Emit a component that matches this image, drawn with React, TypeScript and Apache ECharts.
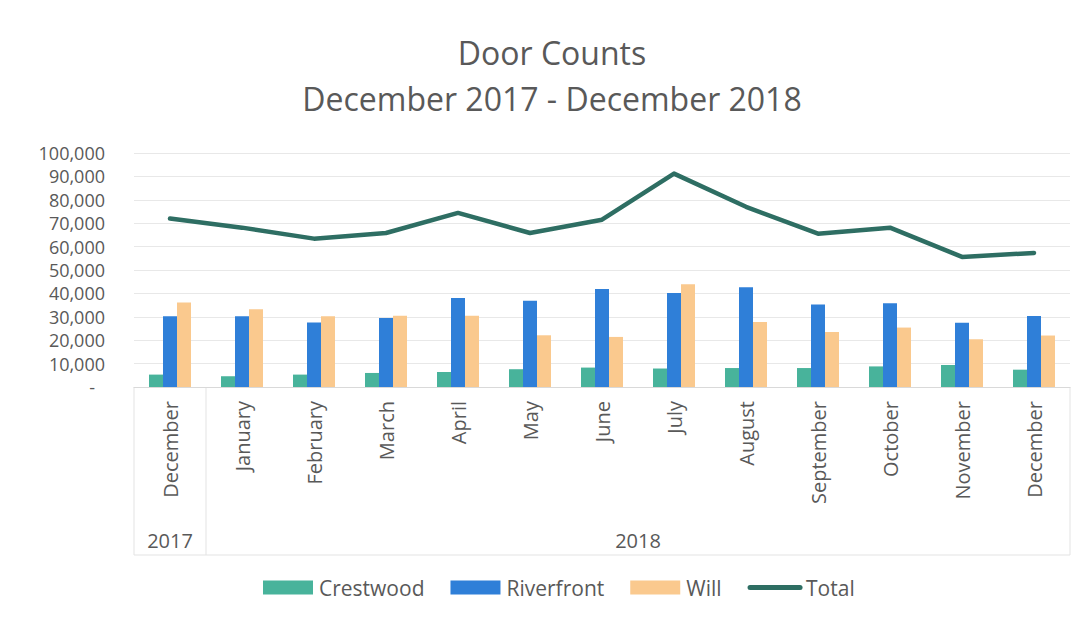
import React, { useEffect, useRef } from 'react';
import * as echarts from 'echarts';

const monthKeys = ['2017-12', '2018-01', '2018-02', '2018-03', '2018-04', '2018-05', '2018-06', '2018-07', '2018-08', '2018-09', '2018-10', '2018-11', '2018-12'];
const monthLabels = ['December', 'January', 'February', 'March', 'April', 'May', 'June', 'July', 'August', 'September', 'October', 'November', 'December'];
const yearLabels = ['2017', '2018'];
const yearSpans = [1, 12];

const crestwood = [5300, 4600, 5300, 6000, 6400, 7600, 8300, 7900, 8100, 8100, 8800, 9400, 7400];
const riverfront = [30200, 30200, 27600, 29500, 38000, 36900, 41900, 40200, 42600, 35300, 35800, 27500, 30300];
const will = [36100, 33200, 30200, 30500, 30500, 22100, 21400, 43900, 27800, 23500, 25400, 20400, 22000];
const total = [72000, 68100, 63400, 65800, 74400, 65800, 71500, 91200, 77000, 65500, 68100, 55600, 57300];

const FONT = '"Open Sans", sans-serif';
const TEXT = '#595959';
const LINE_COLOR = '#2E6E63';

export default function App() {
  const ref = useRef<HTMLDivElement>(null);
  useEffect(() => {
    const chart = echarts.init(ref.current!, null, { renderer: 'svg' });
    chart.setOption({
      animation: false,
      backgroundColor: '#ffffff',
      textStyle: { fontFamily: FONT, color: TEXT },
      title: {
        text: 'Door Counts\nDecember 2017 - December 2018',
        left: 552,
        textAlign: 'center',
        top: 29,
        padding: 0,
        textStyle: { fontFamily: FONT, fontSize: 32, fontWeight: 'normal', color: TEXT, lineHeight: 46 },
      },
      legend: {
        bottom: 20,
        left: 258,
        itemWidth: 50,
        itemHeight: 14,
        itemGap: 26,
        textStyle: { fontFamily: FONT, fontSize: 21, color: TEXT, padding: [0, 0, 0, 1] },
        data: [
          { name: 'Crestwood', icon: 'rect' },
          { name: 'Riverfront', icon: 'rect' },
          { name: 'Will', icon: 'rect' },
          { name: 'Total', itemStyle: { opacity: 0 }, lineStyle: { width: 5, cap: 'round', color: LINE_COLOR } },
        ],
      },
      grid: { left: 134, right: 16, top: 153, bottom: 236, containLabel: false },
      xAxis: {
        type: 'category',
        data: monthKeys,
        axisLine: { lineStyle: { color: '#d9d9d9', width: 1 } },
        axisTick: { show: false },
        axisLabel: {
          rotate: 90,
          margin: 14,
          fontFamily: FONT,
          fontSize: 20,
          color: TEXT,
          interval: 0,
          formatter: (_v: string, idx: number) => monthLabels[idx],
        },
      },
      yAxis: {
        type: 'value',
        min: 0,
        max: 100000,
        interval: 10000,
        axisLine: { show: false },
        axisTick: { show: false },
        splitLine: { lineStyle: { color: '#e8e8e8', width: 1 } },
        axisLabel: {
          margin: 29,
          fontFamily: FONT,
          fontSize: 18,
          lineHeight: 20,
          color: TEXT,
          formatter: (v: number) => (v === 0 ? '{z|-}' : v.toLocaleString('en-US')),
          rich: { z: { fontFamily: FONT, fontSize: 18, lineHeight: 20, color: TEXT, padding: [0, 10, 0, 0] } },
        },
      },
      series: [
        { name: 'Crestwood', type: 'bar', data: crestwood, barWidth: 14, barGap: '0%', itemStyle: { color: '#48B39B' } },
        { name: 'Riverfront', type: 'bar', data: riverfront, barWidth: 14, barGap: '0%', itemStyle: { color: '#2F7FD8' } },
        { name: 'Will', type: 'bar', data: will, barWidth: 14, barGap: '0%', itemStyle: { color: '#FAC98E' } },
        {
          name: 'Total',
          type: 'line',
          data: total,
          symbol: 'none',
          lineStyle: { color: LINE_COLOR, width: 4.5, cap: 'round', join: 'round' },
          itemStyle: { color: LINE_COLOR },
        },
      ],
    });

    const px = (i: number) => chart.convertToPixel({ xAxisIndex: 0 }, monthKeys[i]) as number;
    const band = px(1) - px(0);
    const axisY = chart.convertToPixel({ yAxisIndex: 0 }, 0) as number;
    const bottomY = 555;
    const graphics: any[] = [];
    let start = 0;
    const lineStyle = { stroke: '#e3e3e3', lineWidth: 1 };
    graphics.push({ type: 'line', shape: { x1: px(0) - band / 2, y1: axisY, x2: px(0) - band / 2, y2: bottomY }, style: lineStyle, silent: true });
    yearSpans.forEach((span, gi) => {
      const end = start + span - 1;
      const cx = (px(start) + px(end)) / 2;
      const rightX = px(end) + band / 2;
      graphics.push({ type: 'line', shape: { x1: rightX, y1: axisY, x2: rightX, y2: bottomY }, style: lineStyle, silent: true });
      graphics.push({
        type: 'text',
        x: cx,
        y: 540,
        style: { text: yearLabels[gi], fontFamily: FONT, fontSize: 20, fill: TEXT, align: 'center', verticalAlign: 'middle' },
        silent: true,
      });
      start += span;
    });
    graphics.push({ type: 'line', shape: { x1: px(0) - band / 2, y1: bottomY, x2: px(monthKeys.length - 1) + band / 2, y2: bottomY }, style: lineStyle, silent: true });
    chart.setOption({ graphic: graphics });

    return () => chart.dispose();
  }, []);
  return <div ref={ref} style={{ position: 'fixed', left: 0, top: 0, width: 1086, height: 623 }} />;
}
